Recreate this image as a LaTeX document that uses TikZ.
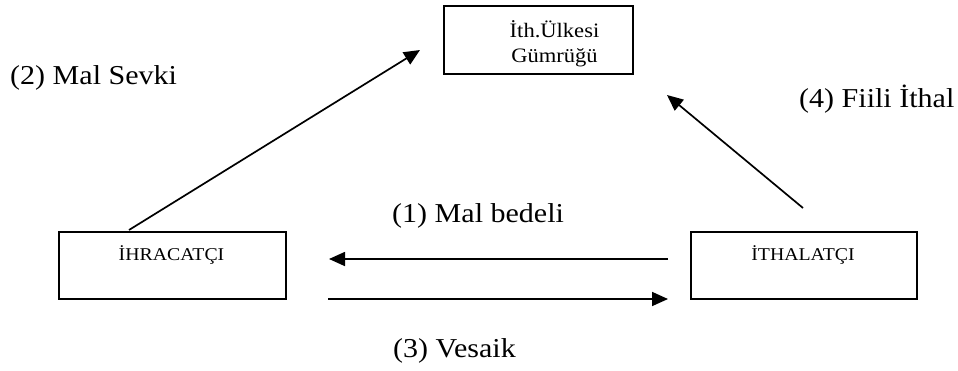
\documentclass[tikz,border=0pt]{standalone}
\usepackage{fontspec}
\usepackage{graphicx}
\setmainfont{Liberation Serif}
\usetikzlibrary{arrows.meta}
\newcommand{\hw}[1]{\scalebox{1.1}[1]{#1}}
\tikzset{
  box/.style={draw, line width=1.8pt, minimum width=#1, inner sep=0pt, anchor=north west},
  boxtxt/.style={font=\fontsize{18}{20}\selectfont, anchor=base, inner sep=0pt},
  toptxt/.style={font=\fontsize{20.5}{25}\selectfont, anchor=base, inner sep=0pt},
  lbl/.style={font=\fontsize{27.3}{30}\selectfont, anchor=base west, inner sep=0pt},
  conn/.style={line width=1.7pt, -{Triangle[length=16pt,width=14pt]}},
}
\begin{document}
\begin{tikzpicture}[x=1pt,y=-1pt]
\useasboundingbox (0,0) rectangle (958,370);
% boxes
\node[box=189pt, minimum height=68pt] (cust) at (443,5) {};
\node[box=227pt, minimum height=67pt] (exp) at (58,231) {};
\node[box=226pt, minimum height=67pt] (imp) at (690,231) {};
% box texts
\node[toptxt] (custa) at (554.5,37) {\hw{İth.Ülkesi}};
\node[toptxt] (custb) at (554.5,62) {\hw{Gümrüğü}};
\node[boxtxt] (expt) at (171.5,260) {\hw{İHRACATÇI}};
\node[boxtxt] (impt) at (803,260) {\hw{İTHALATÇI}};
% connector end points
\coordinate (s2) at (129,230);
\coordinate (e2) at (420,50);
\coordinate (s4) at (803,208);
\coordinate (e4) at (667,95);
\coordinate (s1) at (668,259);
\coordinate (e1) at (329,259);
\coordinate (s3) at (328,299);
\coordinate (e3) at (668,299);
\draw[conn] (s2) -- (e2);
\draw[conn] (s4) -- (e4);
\draw[conn] (s1) -- (e1);
\draw[conn] (s3) -- (e3);
% labels
\node[lbl] (l2) at (10,84) {\hw{(2) Mal Sevki}};
\node[lbl] (l4) at (799,107) {\hw{(4) Fiili İthal}};
\node[lbl] (l1) at (392,222) {\hw{(1) Mal bedeli}};
\node[lbl] (l3) at (393,357) {\hw{(3) Vesaik}};
\end{tikzpicture}
\end{document}
